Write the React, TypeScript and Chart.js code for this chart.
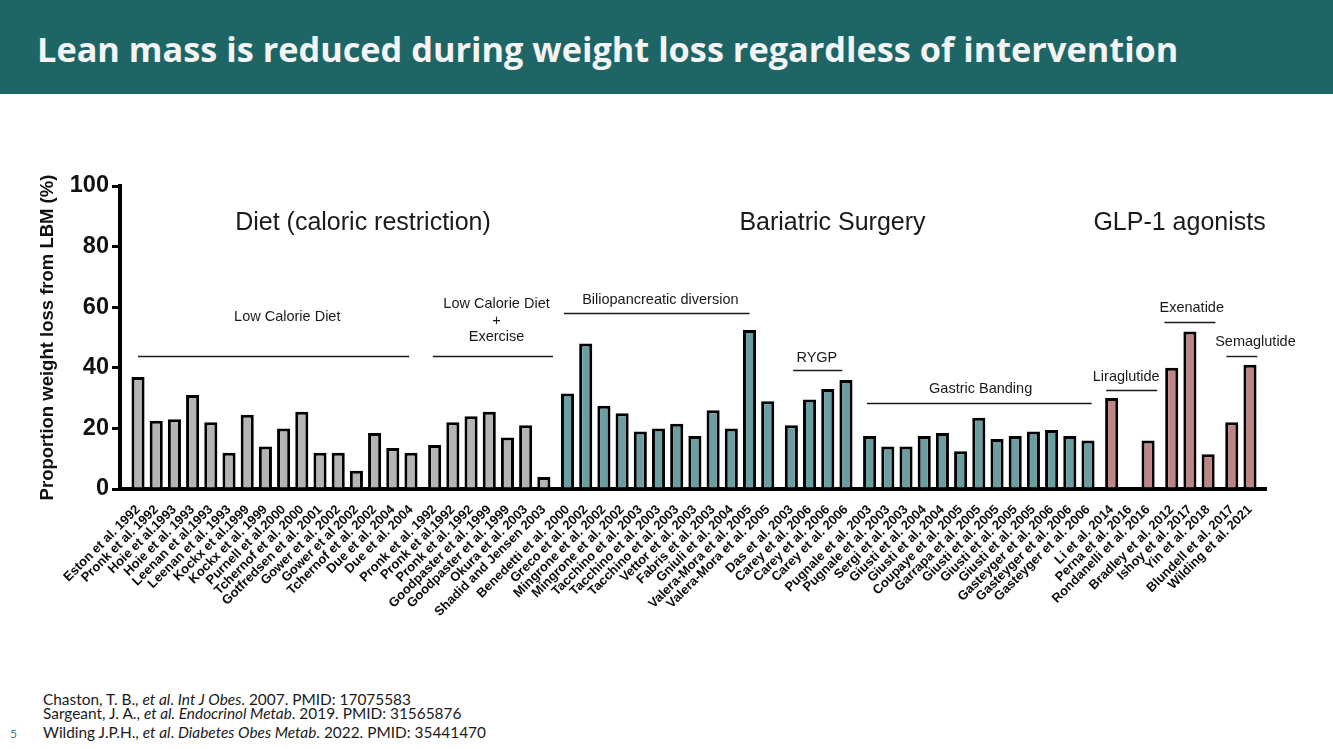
import React, { useEffect, useRef } from 'react';
import { Chart, registerables } from 'chart.js';

Chart.register(...registerables);

// ---------- data ----------
const studies: string[] = [
  'Eston et al. 1992', 'Pronk et al. 1992', 'Hoie et al.1993', 'Hoie et al. 1993', 'Leenan et al.1993',
  'Leenan et al. 1993', 'Kockx et al.1999', 'Kockx et al. 1999', 'Purnell et al.2000', 'Tchernof et al. 2000',
  'Gotfredsen et al. 2001', 'Gower et al. 2002', 'Gower et al 2002', 'Tchernof et al. 2002', 'Due et al. 2004',
  'Due et al. 2004',
  'Pronk et al. 1992', 'Pronk et al.1992', 'Pronk et al. 1992', 'Goodpaster et al. 1999', 'Goodpaster et al. 1999',
  'Okura et al. 2003', 'Shadid and Jensen 2003',
  'Benedetti et al. 2000', 'Greco et al. 2002', 'Mingrone et al. 2002', 'Mingrone et al. 2002', 'Tacchino et al. 2003',
  'Tacchino et al. 2003', 'Tacchino et al. 2003', 'Vettor et al. 2003', 'Fabris et al. 2003', 'Gniuli et al. 2004',
  'Valera-Mora et al. 2005', 'Valera-Mora et al. 2005',
  'Das et al. 2003', 'Carey et al. 2006', 'Carey et al. 2006', 'Carey et al. 2006',
  'Pugnale et al. 2003', 'Pugnale et al. 2003', 'Sergi et al. 2003', 'Giusti et al. 2004', 'Giusti et al. 2004',
  'Coupaye et al. 2005', 'Garrapa et al. 2005', 'Giusti et al. 2005', 'Giusti et al. 2005', 'Giusti et al. 2005',
  'Gasteyger et al. 2006', 'Gasteyger et al. 2006', 'Gasteyger et al. 2006',
  'Li et al. 2014', 'Perna et al. 2016', 'Rondanelli et al. 2016',
  'Bradley et al. 2012', 'Ishoy et al. 2017', 'Yin et al. 2018',
  'Blundell et al. 2017', 'Wilding et al. 2021',
];

const leanMassLossPct: (number | null)[] = [
  37, 22.5, 23, 31, 22, 12, 24.5, 14, 20, 25.5, 12, 12, 6, 18.5, 13.5, 12,
  14.5, 22, 24, 25.5, 17, 21, 4,
  31.5, 48, 27.5, 25, 19, 20, 21.5, 17.5, 26, 20, 52.5, 29,
  21, 29.5, 33, 36,
  17.5, 14, 14, 17.5, 18.5, 12.5, 23.5, 16.5, 17.5, 19, 19.5, 17.5, 16,
  30, null, 16,
  40, 52, 11.5,
  22, 41,
];

const subgroupSizes: number[] = [16, 7, 12, 4, 13, 3, 3, 2];
const subgroupIntervention: string[] = ['diet', 'diet', 'surgery', 'surgery', 'surgery', 'glp1', 'glp1', 'glp1'];

const yTicks: number[] = [0, 20, 40, 60, 80, 100];

// ---------- styling / layout ----------
const FILL: Record<string, string> = { diet: '#b4b4b4', surgery: '#6a9ea2', glp1: '#be8585' };
const GROUP_GAP = 0.3;
const AXIS_FONT = "'Liberation Sans', Arial, Helvetica, sans-serif";

const subgroupOf: number[] = [];
subgroupSizes.forEach((n, g) => { for (let k = 0; k < n; k++) subgroupOf.push(g); });
const positions = studies.map((_, i) => i + subgroupOf[i] * GROUP_GAP);
const barColors = studies.map((_, i) => FILL[subgroupIntervention[subgroupOf[i]]]);

const groupAnnotations = [
  { lines: ['Low Calorie Diet'], textX: 8.2, textY: 56.8, lineFrom: 0, lineTo: 14.9, lineY: 44 },
  { lines: ['Low Calorie Diet', '+', 'Exercise'], textX: 19.7, textY: 55.6, lineFrom: 16.2, lineTo: 22.8, lineY: 44 },
  { lines: ['Biliopancreatic diversion'], textX: 28.7, textY: 62.4, lineFrom: 23.4, lineTo: 33.6, lineY: 58 },
  { lines: ['RYGP'], textX: 37.3, textY: 43.1, lineFrom: 36.0, lineTo: 38.7, lineY: 39.3 },
  { lines: ['Gastric Banding'], textX: 46.3, textY: 33, lineFrom: 40.05, lineTo: 52.4, lineY: 28.3 },
  { lines: ['Liraglutide'], textX: 54.3, textY: 37.1, lineFrom: 53.2, lineTo: 56.0, lineY: 32.7 },
  { lines: ['Exenatide'], textX: 57.9, textY: 59.6, lineFrom: 56.4, lineTo: 59.2, lineY: 55 },
  { lines: ['Semaglutide'], textX: 61.4, textY: 48.6, lineFrom: 59.8, lineTo: 61.5, lineY: 43.9 },
];

const interventionHeaders = [
  { text: 'Diet (caloric restriction)', x: 12.36, y: 87.8 },
  { text: 'Bariatric Surgery', x: 38.16, y: 87.8 },
  { text: 'GLP-1 agonists', x: 57.23, y: 87.8 },
];

const annotationPlugin = {
  id: 'groupAnnotations',
  afterDraw(chart: any) {
    const { ctx, scales } = chart;
    const xs = scales.x;
    const ys = scales.y;
    ctx.save();
    ctx.fillStyle = '#1a1a1a';
    ctx.textAlign = 'center';
    ctx.textBaseline = 'middle';
    ctx.font = `25px ${AXIS_FONT}`;
    interventionHeaders.forEach((h) => {
      ctx.fillText(h.text, xs.getPixelForValue(h.x), ys.getPixelForValue(h.y));
    });
    ctx.font = `14.5px ${AXIS_FONT}`;
    const lh = 16.5;
    groupAnnotations.forEach((a) => {
      const cx = xs.getPixelForValue(a.textX);
      const cy = ys.getPixelForValue(a.textY);
      const n = a.lines.length;
      a.lines.forEach((t, k) => {
        ctx.fillText(t, cx, cy + (k - (n - 1) / 2) * lh);
      });
      ctx.beginPath();
      ctx.strokeStyle = '#1a1a1a';
      ctx.lineWidth = 1.4;
      const ly = Math.round(ys.getPixelForValue(a.lineY)) + 0.5;
      ctx.moveTo(xs.getPixelForValue(a.lineFrom), ly);
      ctx.lineTo(xs.getPixelForValue(a.lineTo), ly);
      ctx.stroke();
    });
    ctx.restore();
  },
};

const CANVAS_W = 1333;
const CANVAS_H = 586;
const CANVAS_TOP = 94;

export default function App() {
  const ref = useRef<HTMLCanvasElement>(null);

  useEffect(() => {
    if (!ref.current) return;
    const chart = new Chart(ref.current, {
      type: 'bar',
      data: {
        datasets: [
          {
            data: studies.map((_, i) => ({ x: positions[i], y: leanMassLossPct[i] })) as any,
            backgroundColor: barColors,
            borderColor: '#000',
            borderWidth: 3,
            borderSkipped: 'start',
            barPercentage: 0.9,
            categoryPercentage: 0.8,
          },
        ],
      },
      options: {
        responsive: false,
        animation: false,
        events: [],
        layout: { padding: { left: 0, right: 67, top: 92, bottom: 0 } },
        plugins: { legend: { display: false }, tooltip: { enabled: false } },
        scales: {
          x: {
            type: 'linear',
            offset: false,
            min: -0.99,
            max: 61.98,
            grid: { display: false, drawTicks: false, offset: false },
            border: { display: true, width: 4, color: '#000' },
            afterBuildTicks: (axis: any) => {
              axis.ticks = positions.map((v) => ({ value: v }));
            },
            afterFit: (axis: any) => {
              axis.height = CANVAS_H - 395;
            },
            ticks: {
              autoSkip: false,
              maxRotation: 45,
              minRotation: 45,
              padding: 13,
              color: '#0d0d0d',
              font: { family: AXIS_FONT, size: 13, weight: 'bold' },
              callback: (_v: any, i: number) => studies[i],
            },
          },
          y: {
            min: 0,
            max: 100,
            afterBuildTicks: (axis: any) => {
              axis.ticks = yTicks.map((v) => ({ value: v }));
            },
            afterFit: (axis: any) => {
              axis.width = 120;
            },
            grid: {
              display: true,
              drawOnChartArea: false,
              drawTicks: true,
              tickLength: 8,
              lineWidth: 3,
              color: '#000',
            },
            border: { display: true, width: 4, color: '#000' },
            ticks: {
              padding: 3,
              color: '#111',
              font: { family: AXIS_FONT, size: 23.5, weight: 'bold' },
            },
            title: {
              display: true,
              text: 'Proportion weight loss from LBM (%)',
              color: '#111',
              font: { family: AXIS_FONT, size: 18.5, weight: 'bold', lineHeight: 1.2 },
              padding: { top: 37, bottom: 0 },
            },
          },
        },
      },
      plugins: [annotationPlugin],
    });
    return () => chart.destroy();
  }, []);

  const foot: React.CSSProperties = {
    position: 'absolute',
    left: 43,
    fontFamily: 'Lato, "Open Sans", sans-serif',
    fontSize: 15.4,
    lineHeight: '18px',
    color: '#1a1a1a',
    whiteSpace: 'nowrap',
  };

  return (
    <div style={{ position: 'fixed', left: 0, top: 0, width: 1333, height: 749, background: '#fff', overflow: 'hidden' }}>
      <div style={{ position: 'absolute', left: 0, top: 0, width: 1333, height: 94, background: '#1e6566' }}>
        <div
          style={{
            position: 'absolute',
            left: 37,
            top: 26,
            fontFamily: '"Open Sans", Lato, sans-serif',
            fontWeight: 700,
            fontSize: 34.3,
            lineHeight: '45px',
            color: '#f4f4f4',
            whiteSpace: 'nowrap',
          }}
        >
          Lean mass is reduced during weight loss regardless of intervention
        </div>
      </div>
      <div style={{ position: 'absolute', left: 0, top: CANVAS_TOP, width: CANVAS_W, height: CANVAS_H }}>
        <canvas ref={ref} width={CANVAS_W} height={CANVAS_H} style={{ width: CANVAS_W, height: CANVAS_H, display: 'block' }} />
      </div>
      <div style={{ ...foot, top: 690 }}>
        Chaston, T. B., <i>et al</i>. <i>Int J Obes</i>. 2007. PMID: 17075583
      </div>
      <div style={{ ...foot, top: 704 }}>
        Sargeant, J. A., <i>et al. Endocrinol Metab</i>. 2019. PMID: 31565876
      </div>
      <div style={{ ...foot, top: 723 }}>
        Wilding J.P.H., <i>et al</i>. <i>Diabetes Obes Metab</i>. 2022. PMID: 35441470
      </div>
      <div style={{ ...foot, left: 10, top: 725, fontSize: 12, color: '#3c7f80' }}>5</div>
    </div>
  );
}
